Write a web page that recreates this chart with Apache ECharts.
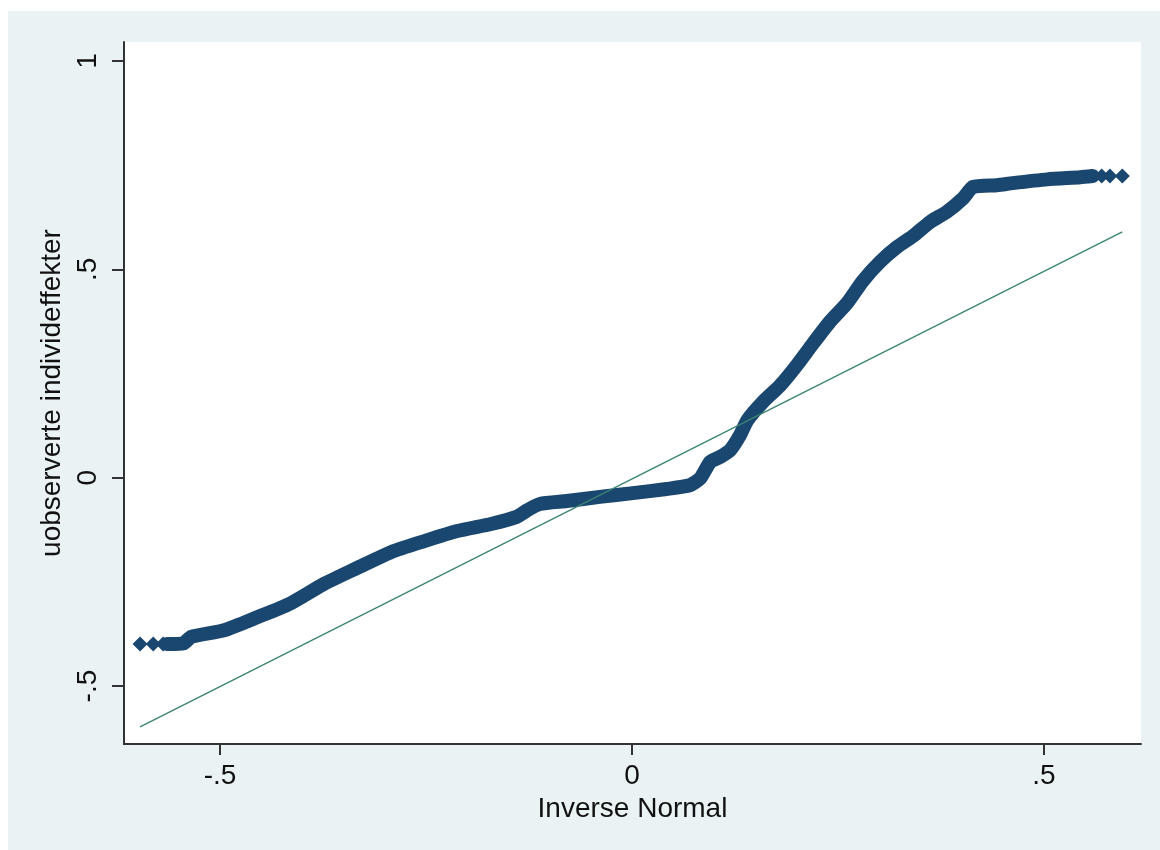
<!DOCTYPE html>
<html>
<head>
<meta charset="utf-8">
<script src="https://cdn.jsdelivr.net/npm/echarts@6/dist/echarts.min.js"></script>
<style>
  html, body { margin: 0; padding: 0; background: #ffffff; }
  #bg { position: absolute; left: 8px; top: 11px; width: 1152px; height: 839px; background: #eaf2f3; }
  #chart { position: absolute; left: 0; top: 0; width: 1160px; height: 850px; }
</style>
</head>
<body>
<div id="bg"></div>
<div id="chart"></div>
<script>
// Quantiles: x = inverse normal, y = uobserverte individeffekter
const bandX = [-0.564, -0.544, -0.535, -0.495, -0.455, -0.414, -0.374, -0.334, -0.292, -0.252,
  -0.212, -0.171, -0.140, -0.127, -0.112, -0.079, -0.039, 0.001, 0.042, 0.070,
  0.083, 0.095, 0.107, 0.119, 0.131, 0.140, 0.159, 0.180, 0.200, 0.220,
  0.240, 0.261, 0.280, 0.301, 0.322, 0.341, 0.362, 0.382, 0.402, 0.414,
  0.443, 0.462, 0.504, 0.544, 0.559];
const bandY = [-0.399, -0.397, -0.382, -0.366, -0.335, -0.301, -0.255, -0.217, -0.178, -0.152,
  -0.128, -0.111, -0.094, -0.078, -0.063, -0.056, -0.046, -0.037, -0.027, -0.018,
  -0.001, 0.038, 0.050, 0.066, 0.102, 0.138, 0.182, 0.222, 0.270, 0.323,
  0.374, 0.419, 0.472, 0.518, 0.554, 0.580, 0.614, 0.638, 0.671, 0.698,
  0.702, 0.707, 0.716, 0.721, 0.724];
// isolated tail points
const tailX = [-0.597, -0.581, -0.569, 0.570, 0.580, 0.595];
const tailY = [-0.399, -0.399, -0.399, 0.724, 0.724, 0.724];
// reference line (y = x)
const refX = [-0.597, 0.595];
const refY = [-0.598, 0.590];
// ticks
const xTicks = [-0.5, 0, 0.5];
const xTickLabels = ['-.5', '0', '.5'];
const yTicks = [-0.5, 0, 0.5, 1];
const yTickLabels = ['-.5', '0', '.5', '1'];
const xTitle = 'Inverse Normal';
const yTitle = 'uobserverte individeffekter';

const zip = (a, b) => a.map((v, i) => [v, b[i]]);
const lab = (ticks, labels) => v => {
  const i = ticks.findIndex(t => Math.abs(t - v) < 1e-9);
  return i >= 0 ? labels[i] : '';
};

const navy = '#1a476f';
const font = '"Liberation Sans", Arial, sans-serif';
const chart = echarts.init(document.getElementById('chart'), null, { renderer: 'canvas' });
chart.setOption({
  animation: false,
  backgroundColor: 'transparent',
  grid: { left: 124, top: 42, right: 19, bottom: 106, show: true, backgroundColor: '#ffffff', borderWidth: 0 },
  xAxis: {
    type: 'value', min: -0.6165, max: 0.6177,
    axisLine: { show: true, onZero: false, lineStyle: { color: '#333', width: 2 } },
    axisTick: { show: true, length: 11, lineStyle: { color: '#333', width: 2 }, customValues: xTicks },
    axisLabel: { customValues: xTicks, formatter: lab(xTicks, xTickLabels), fontSize: 28, fontFamily: font, color: '#111', margin: 18 },
    splitLine: { show: false },
    name: xTitle, nameLocation: 'middle', nameGap: 50,
    nameTextStyle: { fontSize: 28, fontFamily: font, color: '#111' }
  },
  yAxis: {
    type: 'value', min: -0.639, max: 1.0456,
    axisLine: { show: true, onZero: false, lineStyle: { color: '#333', width: 2 } },
    axisTick: { show: true, length: 12, lineStyle: { color: '#333', width: 2 }, customValues: yTicks },
    axisLabel: { customValues: yTicks, formatter: lab(yTicks, yTickLabels), rotate: 90, fontSize: 28, fontFamily: font, color: '#111', margin: 22 },
    splitLine: { show: false },
    name: yTitle, nameLocation: 'middle', nameGap: 54,
    nameTextStyle: { fontSize: 28, fontFamily: font, color: '#111' }
  },
  series: [
    {
      type: 'line', data: zip(bandX, bandY), showSymbol: false, symbol: 'none', smooth: 0.2,
      lineStyle: { color: navy, width: 14, cap: 'round', join: 'round' }, z: 2
    },
    {
      type: 'scatter', data: zip(tailX, tailY), symbol: 'diamond', symbolSize: 15,
      itemStyle: { color: navy, opacity: 1 }, z: 3
    },
    {
      type: 'line', data: zip(refX, refY), showSymbol: false, symbol: 'none',
      lineStyle: { color: '#3b8471', width: 1.3 }, z: 5
    }
  ]
});
</script>
</body>
</html>
